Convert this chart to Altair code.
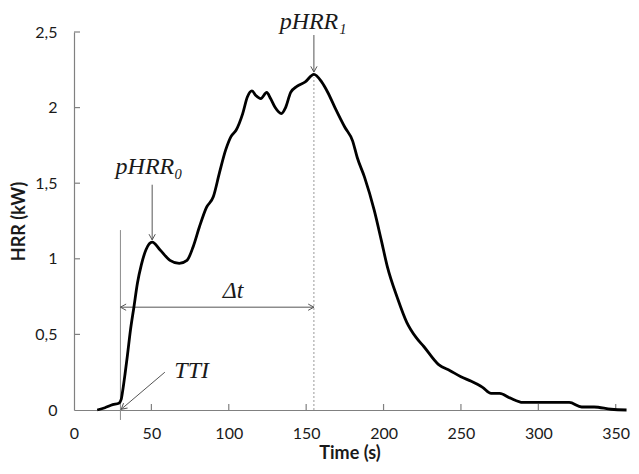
import altair as alt
import pandas as pd

# ---- data ----
time_s = [15, 20, 25, 29, 30.5, 31.5, 33, 34.5, 36.5, 38.7,
          41, 43.5, 46.5, 50.5, 55.5, 62, 68, 73, 77, 81,
          85.6, 90, 94, 98, 101.5, 104.7, 109, 112, 115, 117.5,
          120.7, 124.5, 127, 130, 134, 136.7, 140, 144, 149.4, 155,
          160, 164, 168.6, 175, 180, 183, 187.7, 194, 198.6, 202.4,
          209, 215, 221, 226, 235.6, 243, 250, 256.7, 264, 269.5,
          275, 281.6, 290, 300.6, 313.5, 320, 328, 336, 347, 357]
hrr_kw = [0, 0.015, 0.035, 0.045, 0.07, 0.13, 0.24, 0.36, 0.53, 0.68,
          0.84, 0.96, 1.06, 1.11, 1.06, 0.99, 0.97, 0.99, 1.08, 1.21,
          1.34, 1.41, 1.57, 1.72, 1.81, 1.85, 1.96, 2.07, 2.11, 2.08,
          2.06, 2.10, 2.06, 2.0, 1.96, 2.0, 2.10, 2.14, 2.17, 2.22,
          2.17, 2.10, 2.0, 1.87, 1.78, 1.67, 1.54, 1.32, 1.12, 0.95,
          0.74, 0.58, 0.48, 0.42, 0.30, 0.26, 0.22, 0.19, 0.15, 0.11,
          0.11, 0.08, 0.05, 0.05, 0.05, 0.05, 0.02, 0.02, 0.005, 0]

x_tick_values = [0, 50, 100, 150, 200, 250, 300, 350]
x_inner_ticks = [50, 100, 150, 200, 250, 300, 350]
y_tick_values = [0, 0.5, 1, 1.5, 2, 2.5]
y_inner_ticks = [0.5, 1, 1.5, 2, 2.5]

# annotation lines (x, y) -> (x2, y2)
arrow_x = [155, 50.5, 30, 58.7]
arrow_y = [2.48, 1.49, 0.68, 0.25]
arrow_x2 = [155, 50.5, 155, 30.5]
arrow_y2 = [2.235, 1.125, 0.68, 0.005]

# arrow heads: tip position and rotation (0 = pointing down)
head_x = [155, 50.5, 30, 155, 30.5]
head_y = [2.235, 1.125, 0.68, 0.68, 0.005]
head_angle = [0, 0, 90, 270, 50]

# labels
label_text = ["pHRR₁", "pHRR₀", "Δt", "TTI"]
label_x = [154.5, 48.5, 102.8, 76]
label_y = [2.565, 1.61, 0.79, 0.26]

# guide lines
tti_line = {"x": 30, "y": -0.066, "y2": 1.19}
peak_line = {"x": 155, "y": 0, "y2": 2.2}

W, H = 551, 378
AXIS_GRAY = "#808080"
FONT = "Lato"

curve_df = pd.DataFrame({"t": time_s, "hrr": hrr_kw})
xscale = alt.Scale(domain=[0, 356], nice=False, zero=False)
yscale = alt.Scale(domain=[0, 2.5], nice=False)

x_axis = alt.Axis(values=x_tick_values, grid=False, ticks=False,
                  domainColor=AXIS_GRAY, domainWidth=1.2,
                  labelFont=FONT, labelFontSize=16, labelColor="#1a1a1a",
                  labelPadding=15, labelFlush=False,
                  title="Time (s)", titleFont=FONT, titleFontSize=18,
                  titleFontWeight="bold", titleColor="#1a1a1a", titlePadding=3)
y_axis = alt.Axis(values=y_tick_values, grid=False, ticks=False,
                  domainColor=AXIS_GRAY, domainWidth=1.2,
                  labelFont=FONT, labelFontSize=16, labelColor="#1a1a1a",
                  labelPadding=17, labelFlush=False,
                  labelExpr="replace(toString(datum.value), '.', ',')",
                  title="HRR (kW)", titleFont=FONT, titleFontSize=18,
                  titleFontWeight="bold", titleColor="#1a1a1a", titlePadding=6)

curve = alt.Chart(curve_df).mark_line(
    color="black", strokeWidth=2.8, interpolate="monotone"
).encode(
    x=alt.X("t:Q", scale=xscale, axis=x_axis),
    y=alt.Y("hrr:Q", scale=yscale, axis=y_axis),
)

xt = alt.Chart(pd.DataFrame({"v": x_inner_ticks})).mark_rule(
    color=AXIS_GRAY, strokeWidth=1.2
).encode(x=alt.X("v:Q", scale=xscale), y=alt.value(H - 6), y2=alt.value(H))

yt = alt.Chart(pd.DataFrame({"v": y_inner_ticks})).mark_rule(
    color=AXIS_GRAY, strokeWidth=1.2
).encode(y=alt.Y("v:Q", scale=yscale), x=alt.value(0), x2=alt.value(6))

tti_rule = alt.Chart(pd.DataFrame([tti_line])).mark_rule(
    color="#8c8c8c", strokeWidth=1
).encode(x=alt.X("x:Q", scale=xscale), y=alt.Y("y:Q", scale=yscale), y2="y2:Q")

peak_rule = alt.Chart(pd.DataFrame([peak_line])).mark_rule(
    color="#9a9a9a", strokeWidth=1, strokeDash=[2, 2]
).encode(x=alt.X("x:Q", scale=xscale), y=alt.Y("y:Q", scale=yscale), y2="y2:Q")

arrows = alt.Chart(pd.DataFrame({"x": arrow_x, "y": arrow_y,
                                 "x2": arrow_x2, "y2": arrow_y2})).mark_rule(
    color="#555555", strokeWidth=1
).encode(x=alt.X("x:Q", scale=xscale), y=alt.Y("y:Q", scale=yscale),
         x2="x2:Q", y2="y2:Q")

heads = alt.Chart(pd.DataFrame({"x": head_x, "y": head_y, "a": head_angle})).mark_point(
    shape="M-0.55,-1L0,0L0.55,-1", filled=False, color="#555555",
    strokeWidth=1, size=130, opacity=1
).encode(x=alt.X("x:Q", scale=xscale), y=alt.Y("y:Q", scale=yscale),
         angle=alt.Angle("a:Q", scale=None))

texts = alt.Chart(pd.DataFrame({"x": label_x, "y": label_y, "txt": label_text})).mark_text(
    font="Liberation Serif", fontStyle="italic", fontSize=24, color="#1a1a1a",
    align="center", baseline="middle"
).encode(x=alt.X("x:Q", scale=xscale), y=alt.Y("y:Q", scale=yscale), text="txt:N")

chart = alt.layer(
    peak_rule, tti_rule, xt, yt, arrows, heads, curve, texts
).properties(
    width=W, height=H,
    autosize=alt.AutoSizeParams(type="none"),
    padding={"left": 66, "top": 24, "right": 6, "bottom": 56},
).configure_view(stroke=None)

chart.save("out.html", embed_options={"renderer": "svg", "actions": False})
